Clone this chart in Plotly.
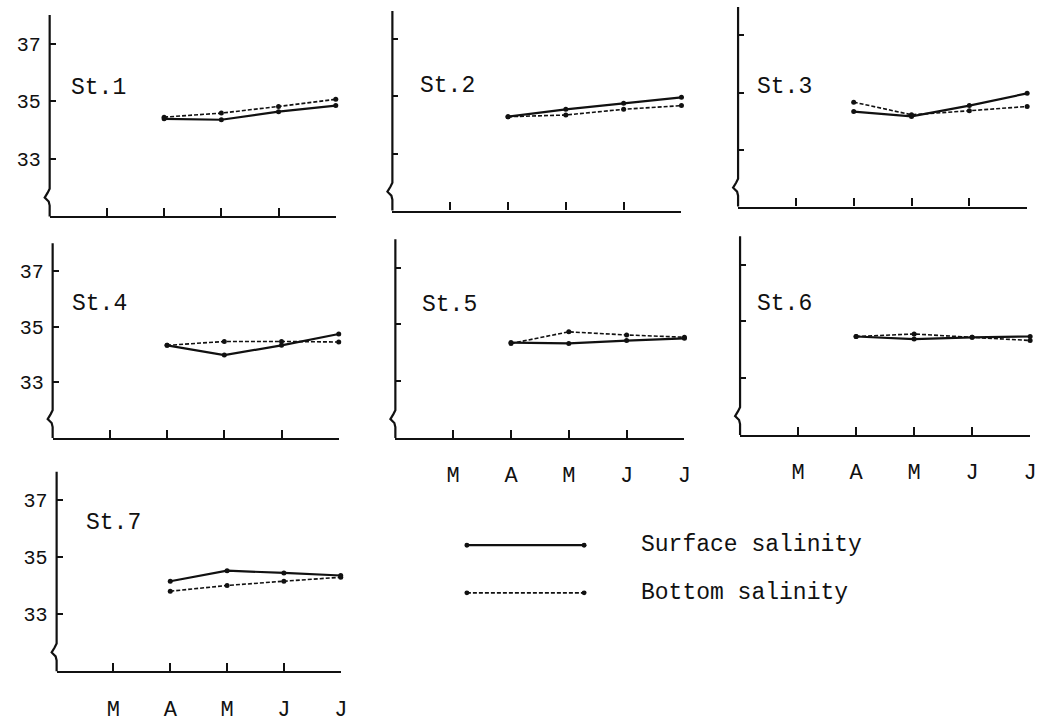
import plotly.graph_objects as go

W, H = 1057, 723

# ---------------- data ----------------
tick_positions = [1, 2, 3, 4, 5]
tick_labels = ["M", "A", "M", "J", "J"]
sample_months = [2, 3, 4, 5]          # A, M, J, J
y_ticks = [33, 35, 37]

stations = ["St.1", "St.2", "St.3", "St.4", "St.5", "St.6", "St.7"]

surface_st1 = [34.39, 34.36, 34.64, 34.85]
bottom_st1 = [34.45, 34.59, 34.82, 35.07]
surface_st2 = [34.29, 34.55, 34.76, 34.97]
bottom_st2 = [34.29, 34.35, 34.55, 34.68]
surface_st3 = [34.33, 34.16, 34.54, 34.97]
bottom_st3 = [34.66, 34.22, 34.36, 34.51]
surface_st4 = [34.33, 33.98, 34.33, 34.74]
bottom_st4 = [34.33, 34.47, 34.47, 34.45]
surface_st5 = [34.36, 34.33, 34.43, 34.51]
bottom_st5 = [34.33, 34.74, 34.63, 34.55]
surface_st6 = [34.47, 34.38, 34.44, 34.47]
bottom_st6 = [34.47, 34.56, 34.44, 34.33]
surface_st7 = [34.16, 34.53, 34.45, 34.36]
bottom_st7 = [33.81, 34.01, 34.16, 34.30]

surface = [surface_st1, surface_st2, surface_st3, surface_st4,
           surface_st5, surface_st6, surface_st7]
bottom = [bottom_st1, bottom_st2, bottom_st3, bottom_st4,
          bottom_st5, bottom_st6, bottom_st7]

legend_names = ["Surface salinity", "Bottom salinity"]

# ---------------- layout geometry (pixels) ----------------
# (x_left, x_right, y_top(38), y_bottom(31))
panel_px = [
    (50, 338, 15, 218),
    (395, 686, 11, 212),
    (743, 1034, 7, 208),
    (53, 341, 245, 441),
    (398, 689, 241, 441),
    (745, 1037, 238, 438),
    (57, 343, 475, 676),
]
label_pos = [(0.33, 35.45), (0.45, 35.35), (0.3, 35.2), (0.3, 35.8),
             (0.42, 35.7), (0.25, 35.6), (0.48, 36.2)]
YMIN, YMAX = 31, 38
XMIN, XMAX = 0, 5

FONT = "Liberation Mono, Courier New, monospace"
INK = "#111111"


def px2x(p):
    return p / W


def py2y(p):
    return 1 - p / H


fig = go.Figure()
layout = dict(
    width=W, height=H,
    margin=dict(l=0, r=0, t=0, b=0),
    paper_bgcolor="white", plot_bgcolor="white",
    showlegend=False,
    font=dict(family=FONT, color=INK),
)
shapes = []
annotations = []

for i, (st, s_vals, b_vals) in enumerate(zip(stations, surface, bottom)):
    k = i + 1
    xs = "" if k == 1 else str(k)
    xl, xr, yt, yb = panel_px[i]
    fig.add_trace(go.Scatter(
        x=sample_months, y=b_vals, mode="lines+markers",
        line=dict(color=INK, width=1.6, dash="4px,2px"),
        marker=dict(size=5, color=INK), cliponaxis=False,
        xaxis="x" + xs, yaxis="y" + xs, name=legend_names[1]))
    fig.add_trace(go.Scatter(
        x=sample_months, y=s_vals, mode="lines+markers",
        line=dict(color=INK, width=2.2),
        marker=dict(size=5, color=INK), cliponaxis=False,
        xaxis="x" + xs, yaxis="y" + xs, name=legend_names[0]))

    layout["xaxis" + xs] = dict(
        domain=[px2x(xl), px2x(xr)], range=[XMIN, XMAX], anchor="y" + xs,
        showline=True, linewidth=2.2, linecolor=INK, mirror=False,
        showgrid=False, zeroline=False,
        ticks="inside", ticklen=8, tickwidth=2, tickcolor=INK,
        tickvals=tick_positions, ticktext=tick_labels,
        showticklabels=k in (5, 6, 7),
        tickfont=dict(family=FONT, size=22, color=INK),
        ticklabelstandoff=16,
    )
    layout["yaxis" + xs] = dict(
        domain=[py2y(yb), py2y(yt)], range=[YMIN, YMAX], anchor="x" + xs,
        showline=False, showgrid=False, zeroline=False,
        ticks="inside", ticklen=6, tickwidth=2, tickcolor=INK,
        tickvals=y_ticks, ticktext=[str(v) for v in y_ticks],
        showticklabels=k in (1, 4, 7),
        tickfont=dict(family=FONT, size=20, color=INK),
        ticklabelstandoff=8,
    )

    # y-axis line with a break symbol near the bottom
    x0 = xl
    pts = [(x0, yt), (x0, yb - 28), (x0 - 2, yb - 24), (x0 - 5, yb - 19),
           (x0 - 1, yb - 15), (x0, yb - 11), (x0, yb)]
    path = "M " + " L ".join(f"{px2x(a):.5f},{py2y(b):.5f}" for a, b in pts)
    shapes.append(dict(type="path", xref="paper", yref="paper", path=path,
                       line=dict(color=INK, width=2.2)))

    annotations.append(dict(
        text=st, xref="x" + xs, yref="y" + xs,
        x=label_pos[i][0], y=label_pos[i][1],
        xanchor="left", yanchor="middle", showarrow=False,
        font=dict(family=FONT, size=23, color=INK)))

# ---------------- legend (drawn) ----------------
leg_rows = [(549, "solid", 2.2), (597, "4px,2px", 1.6)]
for (ly, dash, lw), name in zip(leg_rows, legend_names):
    shapes.append(dict(type="line", xref="paper", yref="paper",
                       x0=px2x(470), x1=px2x(588), y0=py2y(ly), y1=py2y(ly),
                       line=dict(color=INK, width=lw, dash=dash)))
    for cx in (470, 588):
        shapes.append(dict(type="circle", xref="paper", yref="paper",
                           x0=px2x(cx - 2.5), x1=px2x(cx + 2.5),
                           y0=py2y(ly + 2.5), y1=py2y(ly - 2.5),
                           fillcolor=INK, line=dict(color=INK, width=0)))
    annotations.append(dict(
        text=name, xref="paper", yref="paper", x=px2x(643), y=py2y(ly),
        xanchor="left", yanchor="middle", showarrow=False,
        font=dict(family=FONT, size=23, color=INK)))

layout["shapes"] = shapes
layout["annotations"] = annotations
fig.update_layout(**layout)
fig.write_html("out.html")
